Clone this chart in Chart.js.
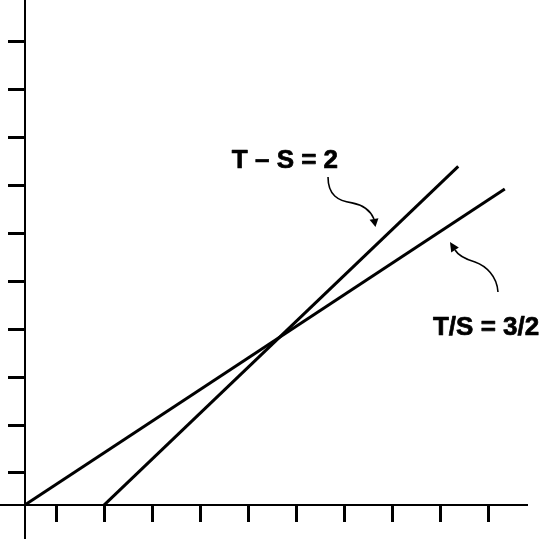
<!DOCTYPE html>
<html>
<head>
<meta charset="utf-8">
<script src="https://cdn.jsdelivr.net/npm/chart.js@4.4.1/dist/chart.umd.min.js"></script>
<style>
  html, body { margin: 0; padding: 0; background: #fff; }
  #wrap { width: 557px; height: 539px; position: relative; }
</style>
</head>
<body>
<div id="wrap"><canvas id="c"></canvas></div>
<script>
// Tick positions (no tick labels in the reference)
const xTicks = [1, 2, 3, 4, 5, 6, 7, 8, 9, 10];
const yTicks = [1, 2, 3, 4, 5, 6, 7, 8, 9, 10];

// Where the two axes cross
const originX = 0.35;
const originY = 0.33;

// Line T/S = 3/2
const ratioX = [0.35, 10.35];
const ratioY = [0.33, 6.93];

// Line T - S = 2
const diffX = [2.0, 9.38];
const diffY = [0.33, 7.40];

// Labels
const labelTexts = ['T – S = 2', 'T/S = 3/2'];
const labelX = [5.77, 9.96];
const labelY = [7.37, 3.88];

// Curved arrows: start, (c1, c2, p) x2, tip  — in data units
const arrow1X = [6.667, 6.667, 6.875, 7.167, 7.417, 7.563, 7.625, 7.656];
const arrow1Y = [7.18, 6.80, 6.68, 6.64, 6.595, 6.449, 6.303, 6.136];
const arrow2X = [10.208, 10.188, 9.958, 9.729, 9.521, 9.375, 9.313, 9.208];
const arrow2Y = [4.779, 5.113, 5.322, 5.405, 5.468, 5.551, 5.656, 5.823];

function pts(xs, ys) { return xs.map((x, i) => ({x: x, y: ys[i]})); }

const annotatePlugin = {
  id: 'annotate',
  afterDatasetsDraw(chart) {
    const ctx = chart.ctx, sx = chart.scales.x, sy = chart.scales.y;
    const px = v => sx.getPixelForValue(v), py = v => sy.getPixelForValue(v);
    ctx.save();
    ctx.fillStyle = '#000';
    ctx.strokeStyle = '#000';
    ctx.lineWidth = 0.7;
    ctx.lineJoin = 'round';
    ctx.font = 'bold 26px "Liberation Sans", Arial, sans-serif';
    ctx.textAlign = 'center';
    ctx.textBaseline = 'alphabetic';
    labelTexts.forEach((t, i) => {
      ctx.fillText(t, px(labelX[i]), py(labelY[i]));
      ctx.strokeText(t, px(labelX[i]), py(labelY[i]));
    });

    [[arrow1X, arrow1Y], [arrow2X, arrow2Y]].forEach(([ax, ay]) => {
      const P = ax.map((x, i) => [px(x), py(ay[i])]);
      ctx.beginPath();
      ctx.lineWidth = 1.6;
      ctx.strokeStyle = '#000';
      ctx.moveTo(P[0][0], P[0][1]);
      ctx.bezierCurveTo(P[1][0], P[1][1], P[2][0], P[2][1], P[3][0], P[3][1]);
      ctx.bezierCurveTo(P[4][0], P[4][1], P[5][0], P[5][1], P[6][0], P[6][1]);
      ctx.stroke();
      // arrow head
      const tip = P[7], base = P[6];
      const dx = tip[0] - base[0], dy = tip[1] - base[1];
      const len = Math.hypot(dx, dy) || 1;
      const nx = -dy / len, ny = dx / len, hw = 4.5;
      ctx.beginPath();
      ctx.moveTo(tip[0], tip[1]);
      ctx.lineTo(base[0] + nx * hw, base[1] + ny * hw);
      ctx.lineTo(base[0] - nx * hw, base[1] - ny * hw);
      ctx.closePath();
      ctx.fill();
    });
    ctx.restore();
  }
};

const axisCommon = {
  type: 'linear',
  ticks: { display: false },
  grid: { display: true, drawOnChartArea: false, drawTicks: true, tickLength: 16, tickWidth: 3, tickColor: '#000' },
  border: { display: true, color: '#000', width: 2 }
};

new Chart(document.getElementById('c'), {
  type: 'scatter',
  data: {
    datasets: [
      { data: pts(ratioX, ratioY), showLine: true, borderColor: '#000', borderWidth: 3, pointRadius: 0, fill: false },
      { data: pts(diffX, diffY), showLine: true, borderColor: '#000', borderWidth: 3, pointRadius: 0, fill: false }
    ]
  },
  options: {
    responsive: true,
    maintainAspectRatio: false,
    animation: false,
    layout: { padding: { left: 0, right: 30, top: 0, bottom: 0 } },
    plugins: { legend: { display: false }, tooltip: { enabled: false } },
    scales: {
      x: Object.assign({}, axisCommon, {
        position: { y: originY },
        min: -0.1667, max: 10.8125,
        afterBuildTicks: s => { s.ticks = xTicks.map(v => ({ value: v })); }
      }),
      y: Object.assign({}, axisCommon, {
        position: { x: originX },
        min: -0.378, max: 10.875,
        afterBuildTicks: s => { s.ticks = yTicks.map(v => ({ value: v })); }
      })
    }
  },
  plugins: [annotatePlugin]
});
</script>
</body>
</html>
